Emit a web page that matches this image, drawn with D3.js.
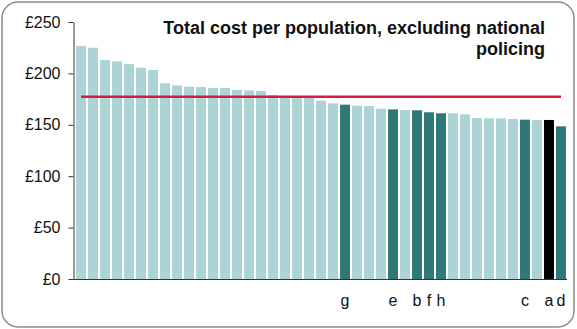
<!DOCTYPE html>
<html>
<head>
<meta charset="utf-8">
<script src="https://cdn.jsdelivr.net/npm/d3@7/dist/d3.min.js"></script>
<style>
  html, body { margin: 0; padding: 0; background: #fff; }
  svg { display: block; }
</style>
</head>
<body>
<svg id="chart" width="577" height="329"></svg>
<script>
const categories = d3.range(1, 42).map(i => "F" + i);
const values = [226.7, 225, 213, 211.8, 209, 205.5, 203.3, 190.4, 188.4, 187,
  186.8, 185.8, 185.8, 183.9, 183.5, 182.9, 179, 178, 177.5, 177,
  173.5, 170.9, 169.6, 168.6, 168.3, 165.7, 165, 164.4, 164.1, 162.2,
  161.2, 161.2, 160.2, 156.6, 156.3, 156.3, 155.6, 155, 154.7, 154.7, 148.5];
const labels = ["", "", "", "", "", "", "", "", "", "",
  "", "", "", "", "", "", "", "", "", "",
  "", "", "g", "", "", "", "e", "", "b", "f",
  "h", "", "", "", "", "", "", "c", "", "a", "d"];
// 0 = other, 1 = highlighted, 2 = selected
const groups = [0,0,0,0,0,0,0,0,0,0, 0,0,0,0,0,0,0,0,0,0,
  0,0,1,0,0,0,1,0,1,1, 1,0,0,0,0,0,0,1,0,2,1];
const average = 177.4;
const yTicks = [0, 50, 100, 150, 200, 250];
const titleLines = ["Total cost per population, excluding national", "policing"];

const colours = ["#acd4d7", "#2f7878", "#000000"];

const svg = d3.select("#chart");

svg.append("rect")
  .attr("x", 2).attr("y", 2).attr("width", 572).attr("height", 325)
  .attr("rx", 16).attr("ry", 16)
  .attr("fill", "#fff").attr("stroke", "#8c8c8c").attr("stroke-width", 1.5);

const x = d3.scaleBand().domain(categories).range([74, 568])
  .paddingInner(0.17).paddingOuter(0.17);
const y = d3.scaleLinear().domain([0, 250]).range([279, 22]);

svg.append("g").selectAll("rect").data(categories).join("rect")
  .attr("x", d => x(d))
  .attr("width", x.bandwidth())
  .attr("y", (d, i) => y(values[i]))
  .attr("height", (d, i) => y(0) - y(values[i]))
  .attr("fill", (d, i) => colours[groups[i]]);

const yAxis = svg.append("g").attr("transform", "translate(73.5,0)")
  .call(d3.axisLeft(y).tickValues(yTicks).tickFormat(d => "£" + d)
    .tickSize(5).tickSizeOuter(0).tickPadding(8));
yAxis.select(".domain").attr("stroke", "#333");
yAxis.selectAll(".tick line").attr("stroke", "#333");
yAxis.selectAll("text").attr("font-family", "Liberation Sans, Arial, sans-serif")
  .attr("font-size", 16).attr("fill", "#111");

const xAxis = svg.append("g").attr("transform", "translate(0,279.5)")
  .call(d3.axisBottom(x).tickFormat((d, i) => labels[i]).tickSize(0).tickSizeOuter(0).tickPadding(15));
xAxis.select(".domain").attr("stroke", "#333").attr("stroke-width", 1.2)
  .attr("d", "M73.5,0H567");
xAxis.selectAll("text").attr("font-family", "Liberation Sans, Arial, sans-serif")
  .attr("font-size", 16).attr("fill", "#111");

svg.append("line")
  .attr("x1", x(categories[0]) + x.bandwidth() / 2)
  .attr("x2", x(categories[categories.length - 1]) + x.bandwidth() / 2)
  .attr("y1", y(average)).attr("y2", y(average))
  .attr("stroke", "#d81b40").attr("stroke-width", 2.5);

svg.append("g").selectAll("text").data(titleLines).join("text")
  .attr("x", 545).attr("y", (d, i) => 34 + i * 21)
  .attr("text-anchor", "end")
  .attr("font-family", "Liberation Sans, Arial, sans-serif")
  .attr("font-weight", "bold").attr("font-size", 18).attr("fill", "#111")
  .text(d => d);
</script>
</body>
</html>
